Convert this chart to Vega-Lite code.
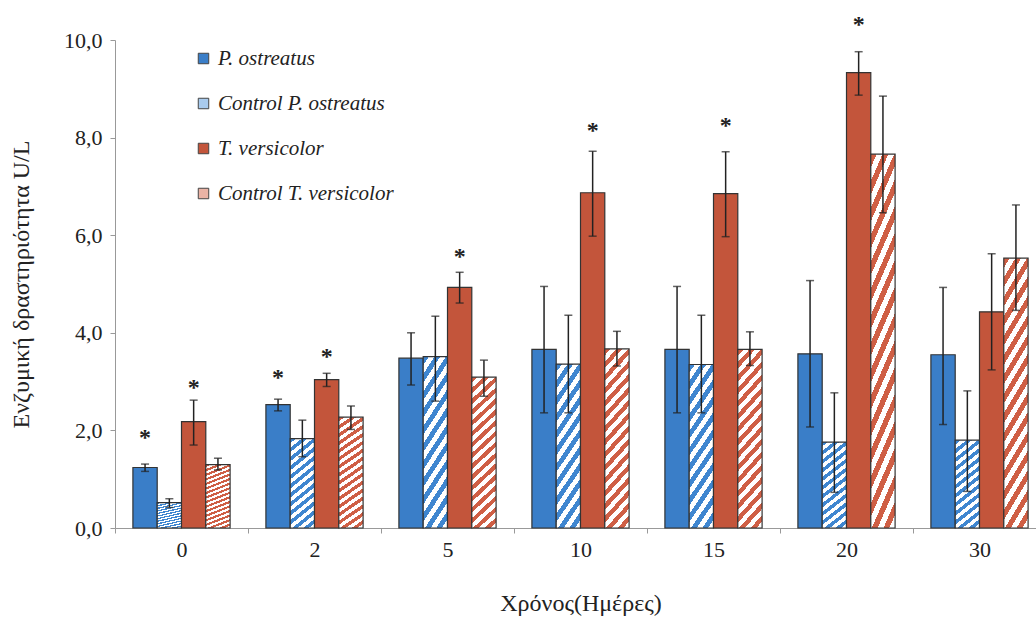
{
  "$schema": "https://vega.github.io/schema/vega-lite/v6.json",
  "width": 921,
  "height": 488,
  "autosize": {"type": "none"},
  "padding": {"left": 115, "top": 40, "right": 0, "bottom": 96},
  "background": "white",
  "config": {"view": {"stroke": null}, "font": "Liberation Serif, Times New Roman, DejaVu Serif, serif"},
  "data": {
    "values": [
      {"day": "0", "series": "P. ostreatus", "value": 1.24, "lo": 1.16, "hi": 1.31, "star": 1.95},
      {"day": "0", "series": "Control P. ostreatus", "value": 0.52, "lo": 0.42, "hi": 0.60},
      {"day": "0", "series": "T. versicolor", "value": 2.18, "lo": 1.70, "hi": 2.62, "star": 2.97},
      {"day": "0", "series": "Control T. versicolor", "value": 1.30, "lo": 1.19, "hi": 1.43},
      {"day": "2", "series": "P. ostreatus", "value": 2.53, "lo": 2.40, "hi": 2.64, "star": 3.17},
      {"day": "2", "series": "Control P. ostreatus", "value": 1.83, "lo": 1.46, "hi": 2.21},
      {"day": "2", "series": "T. versicolor", "value": 3.04, "lo": 2.90, "hi": 3.17, "star": 3.60},
      {"day": "2", "series": "Control T. versicolor", "value": 2.27, "lo": 2.02, "hi": 2.50},
      {"day": "5", "series": "P. ostreatus", "value": 3.48, "lo": 2.93, "hi": 4.00},
      {"day": "5", "series": "Control P. ostreatus", "value": 3.51, "lo": 2.60, "hi": 4.34},
      {"day": "5", "series": "T. versicolor", "value": 4.93, "lo": 4.61, "hi": 5.24, "star": 5.66},
      {"day": "5", "series": "Control T. versicolor", "value": 3.09, "lo": 2.70, "hi": 3.44},
      {"day": "10", "series": "P. ostreatus", "value": 3.66, "lo": 2.36, "hi": 4.95},
      {"day": "10", "series": "Control P. ostreatus", "value": 3.36, "lo": 2.36, "hi": 4.36},
      {"day": "10", "series": "T. versicolor", "value": 6.87, "lo": 5.98, "hi": 7.72, "star": 8.24},
      {"day": "10", "series": "Control T. versicolor", "value": 3.67, "lo": 3.32, "hi": 4.03},
      {"day": "15", "series": "P. ostreatus", "value": 3.66, "lo": 2.36, "hi": 4.95},
      {"day": "15", "series": "Control P. ostreatus", "value": 3.35, "lo": 2.36, "hi": 4.36},
      {"day": "15", "series": "T. versicolor", "value": 6.85, "lo": 5.97, "hi": 7.71, "star": 8.35},
      {"day": "15", "series": "Control T. versicolor", "value": 3.66, "lo": 3.33, "hi": 4.02},
      {"day": "20", "series": "P. ostreatus", "value": 3.57, "lo": 2.07, "hi": 5.07},
      {"day": "20", "series": "Control P. ostreatus", "value": 1.76, "lo": 0.73, "hi": 2.77},
      {"day": "20", "series": "T. versicolor", "value": 9.33, "lo": 8.87, "hi": 9.76, "star": 10.41},
      {"day": "20", "series": "Control T. versicolor", "value": 7.66, "lo": 6.46, "hi": 8.85},
      {"day": "30", "series": "P. ostreatus", "value": 3.55, "lo": 2.12, "hi": 4.93},
      {"day": "30", "series": "Control P. ostreatus", "value": 1.80, "lo": 0.75, "hi": 2.81},
      {"day": "30", "series": "T. versicolor", "value": 4.43, "lo": 3.24, "hi": 5.62},
      {"day": "30", "series": "Control T. versicolor", "value": 5.53, "lo": 4.46, "hi": 6.62}
    ]
  },
  "encoding": {
    "x": {
      "field": "day",
      "type": "nominal",
      "sort": ["0", "2", "5", "10", "15", "20", "30"],
      "scale": {"range": [0, 931], "paddingInner": 0, "paddingOuter": 0},
      "axis": {
        "title": "Χρόνος(Ημέρες)",
        "labelAngle": 0,
        "tickBand": "extent",
        "domainColor": "#999999",
        "tickColor": "#999999",
        "tickSize": 5,
        "labelFont": "Liberation Serif, Times New Roman, DejaVu Serif, serif",
        "labelFontSize": 22,
        "labelColor": "#222222",
        "labelPadding": 6,
        "titleFont": "Liberation Serif, Times New Roman, DejaVu Serif, serif",
        "titleFontSize": 24,
        "titleFontWeight": "normal",
        "titleColor": "#222222",
        "titlePadding": 31
      }
    },
    "xOffset": {
      "field": "series",
      "type": "nominal",
      "sort": ["P. ostreatus", "Control P. ostreatus", "T. versicolor", "Control T. versicolor"],
      "scale": {"paddingOuter": 0.737, "paddingInner": 0}
    }
  },
  "layer": [
    {
      "mark": {"type": "bar", "stroke": "#333333", "strokeWidth": 1.2},
      "encoding": {
        "y": {
          "field": "value",
          "type": "quantitative",
          "title": "Ενζυμική δραστηριότητα U/L",
          "scale": {"domain": [0, 10]},
          "axis": {
            "values": [0, 2, 4, 6, 8, 10],
            "labelExpr": "replace(format(datum.value, '.1f'), '.', ',')",
            "grid": false,
            "domainColor": "#999999",
            "tickColor": "#999999",
            "tickSize": 5,
            "labelFont": "Liberation Serif, Times New Roman, DejaVu Serif, serif",
            "labelFontSize": 22,
            "labelColor": "#222222",
            "labelPadding": 8,
            "titleFont": "Liberation Serif, Times New Roman, DejaVu Serif, serif",
            "titleFontSize": 24,
            "titleFontWeight": "normal",
            "titleColor": "#222222",
            "titlePadding": 30
          }
        },
        "fill": {
          "condition": [
            {
              "test": "datum.series === 'Control P. ostreatus'",
              "value": {
                "gradient": "linear", "x1": 0, "y1": 0, "x2": 0.2535, "y2": 1.163,
                "stops": [
                  {"offset": 0, "color": "#3f86d0"}, {"offset": 0.0417, "color": "#3f86d0"},
                  {"offset": 0.0417, "color": "#ffffff"}, {"offset": 0.0833, "color": "#ffffff"},
                  {"offset": 0.0833, "color": "#3f86d0"}, {"offset": 0.125, "color": "#3f86d0"},
                  {"offset": 0.125, "color": "#ffffff"}, {"offset": 0.1667, "color": "#ffffff"},
                  {"offset": 0.1667, "color": "#3f86d0"}, {"offset": 0.2083, "color": "#3f86d0"},
                  {"offset": 0.2083, "color": "#ffffff"}, {"offset": 0.25, "color": "#ffffff"},
                  {"offset": 0.25, "color": "#3f86d0"}, {"offset": 0.2917, "color": "#3f86d0"},
                  {"offset": 0.2917, "color": "#ffffff"}, {"offset": 0.3333, "color": "#ffffff"},
                  {"offset": 0.3333, "color": "#3f86d0"}, {"offset": 0.375, "color": "#3f86d0"},
                  {"offset": 0.375, "color": "#ffffff"}, {"offset": 0.4167, "color": "#ffffff"},
                  {"offset": 0.4167, "color": "#3f86d0"}, {"offset": 0.4583, "color": "#3f86d0"},
                  {"offset": 0.4583, "color": "#ffffff"}, {"offset": 0.5, "color": "#ffffff"},
                  {"offset": 0.5, "color": "#3f86d0"}, {"offset": 0.5417, "color": "#3f86d0"},
                  {"offset": 0.5417, "color": "#ffffff"}, {"offset": 0.5833, "color": "#ffffff"},
                  {"offset": 0.5833, "color": "#3f86d0"}, {"offset": 0.625, "color": "#3f86d0"},
                  {"offset": 0.625, "color": "#ffffff"}, {"offset": 0.6667, "color": "#ffffff"},
                  {"offset": 0.6667, "color": "#3f86d0"}, {"offset": 0.7083, "color": "#3f86d0"},
                  {"offset": 0.7083, "color": "#ffffff"}, {"offset": 0.75, "color": "#ffffff"},
                  {"offset": 0.75, "color": "#3f86d0"}, {"offset": 0.7917, "color": "#3f86d0"},
                  {"offset": 0.7917, "color": "#ffffff"}, {"offset": 0.8333, "color": "#ffffff"},
                  {"offset": 0.8333, "color": "#3f86d0"}, {"offset": 0.875, "color": "#3f86d0"},
                  {"offset": 0.875, "color": "#ffffff"}, {"offset": 0.9167, "color": "#ffffff"},
                  {"offset": 0.9167, "color": "#3f86d0"}, {"offset": 0.9583, "color": "#3f86d0"},
                  {"offset": 0.9583, "color": "#ffffff"}, {"offset": 1, "color": "#ffffff"}
                ]
              }
            },
            {
              "test": "datum.series === 'Control T. versicolor'",
              "value": {
                "gradient": "linear", "x1": 0, "y1": 0, "x2": 0.1687, "y2": 1.1247,
                "stops": [
                  {"offset": 0, "color": "#cf5f45"}, {"offset": 0.03125, "color": "#cf5f45"},
                  {"offset": 0.03125, "color": "#ffffff"}, {"offset": 0.0625, "color": "#ffffff"},
                  {"offset": 0.0625, "color": "#cf5f45"}, {"offset": 0.09375, "color": "#cf5f45"},
                  {"offset": 0.09375, "color": "#ffffff"}, {"offset": 0.125, "color": "#ffffff"},
                  {"offset": 0.125, "color": "#cf5f45"}, {"offset": 0.15625, "color": "#cf5f45"},
                  {"offset": 0.15625, "color": "#ffffff"}, {"offset": 0.1875, "color": "#ffffff"},
                  {"offset": 0.1875, "color": "#cf5f45"}, {"offset": 0.21875, "color": "#cf5f45"},
                  {"offset": 0.21875, "color": "#ffffff"}, {"offset": 0.25, "color": "#ffffff"},
                  {"offset": 0.25, "color": "#cf5f45"}, {"offset": 0.28125, "color": "#cf5f45"},
                  {"offset": 0.28125, "color": "#ffffff"}, {"offset": 0.3125, "color": "#ffffff"},
                  {"offset": 0.3125, "color": "#cf5f45"}, {"offset": 0.34375, "color": "#cf5f45"},
                  {"offset": 0.34375, "color": "#ffffff"}, {"offset": 0.375, "color": "#ffffff"},
                  {"offset": 0.375, "color": "#cf5f45"}, {"offset": 0.40625, "color": "#cf5f45"},
                  {"offset": 0.40625, "color": "#ffffff"}, {"offset": 0.4375, "color": "#ffffff"},
                  {"offset": 0.4375, "color": "#cf5f45"}, {"offset": 0.46875, "color": "#cf5f45"},
                  {"offset": 0.46875, "color": "#ffffff"}, {"offset": 0.5, "color": "#ffffff"},
                  {"offset": 0.5, "color": "#cf5f45"}, {"offset": 0.53125, "color": "#cf5f45"},
                  {"offset": 0.53125, "color": "#ffffff"}, {"offset": 0.5625, "color": "#ffffff"},
                  {"offset": 0.5625, "color": "#cf5f45"}, {"offset": 0.59375, "color": "#cf5f45"},
                  {"offset": 0.59375, "color": "#ffffff"}, {"offset": 0.625, "color": "#ffffff"},
                  {"offset": 0.625, "color": "#cf5f45"}, {"offset": 0.65625, "color": "#cf5f45"},
                  {"offset": 0.65625, "color": "#ffffff"}, {"offset": 0.6875, "color": "#ffffff"},
                  {"offset": 0.6875, "color": "#cf5f45"}, {"offset": 0.71875, "color": "#cf5f45"},
                  {"offset": 0.71875, "color": "#ffffff"}, {"offset": 0.75, "color": "#ffffff"},
                  {"offset": 0.75, "color": "#cf5f45"}, {"offset": 0.78125, "color": "#cf5f45"},
                  {"offset": 0.78125, "color": "#ffffff"}, {"offset": 0.8125, "color": "#ffffff"},
                  {"offset": 0.8125, "color": "#cf5f45"}, {"offset": 0.84375, "color": "#cf5f45"},
                  {"offset": 0.84375, "color": "#ffffff"}, {"offset": 0.875, "color": "#ffffff"},
                  {"offset": 0.875, "color": "#cf5f45"}, {"offset": 0.90625, "color": "#cf5f45"},
                  {"offset": 0.90625, "color": "#ffffff"}, {"offset": 0.9375, "color": "#ffffff"},
                  {"offset": 0.9375, "color": "#cf5f45"}, {"offset": 0.96875, "color": "#cf5f45"},
                  {"offset": 0.96875, "color": "#ffffff"}, {"offset": 1, "color": "#ffffff"}
                ]
              }
            }
          ],
          "field": "series",
          "type": "nominal",
          "scale": {
            "domain": ["P. ostreatus", "Control P. ostreatus", "T. versicolor", "Control T. versicolor"],
            "range": ["#3a7ec8", "#a9cbee", "#c3553b", "#eab3a5"]
          },
          "legend": {
            "title": null,
            "orient": "none",
            "legendX": 78,
            "legendY": 8,
            "direction": "vertical",
            "labelFont": "Liberation Serif, Times New Roman, DejaVu Serif, serif",
            "labelFontSize": 21,
            "labelFontStyle": "italic",
            "labelColor": "#222222",
            "labelOffset": 4,
            "labelLimit": 0,
            "symbolType": "square",
            "symbolSize": 110,
            "symbolStrokeColor": "#444444",
            "symbolStrokeWidth": 1,
            "rowPadding": 23
          }
        }
      }
    },
    {
      "mark": {"type": "rule", "color": "#222222", "strokeWidth": 1.5},
      "encoding": {
        "y": {"field": "lo", "type": "quantitative", "title": "Ενζυμική δραστηριότητα U/L"},
        "y2": {"field": "hi"}
      }
    },
    {
      "mark": {"type": "tick", "color": "#222222", "thickness": 1.5, "size": 8},
      "encoding": {
        "y": {"field": "hi", "type": "quantitative", "title": "Ενζυμική δραστηριότητα U/L"}
      }
    },
    {
      "mark": {"type": "tick", "color": "#222222", "thickness": 1.5, "size": 8},
      "encoding": {
        "y": {"field": "lo", "type": "quantitative", "title": "Ενζυμική δραστηριότητα U/L"}
      }
    },
    {
      "transform": [{"filter": "isValid(datum.star)"}],
      "mark": {"type": "text", "text": "*", "fontSize": 24, "fontWeight": "bold", "color": "#222222", "baseline": "middle", "dy": 5, "font": "Liberation Serif, Times New Roman, DejaVu Serif, serif"},
      "encoding": {
        "y": {"field": "star", "type": "quantitative", "title": "Ενζυμική δραστηριότητα U/L"}
      }
    }
  ]
}
